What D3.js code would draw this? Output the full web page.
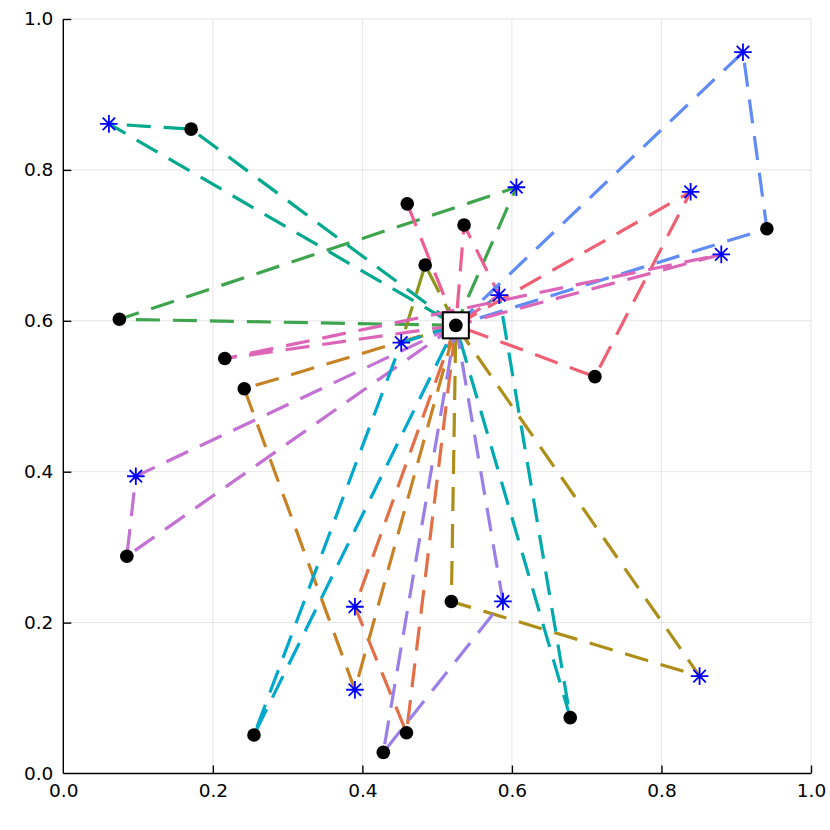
<!DOCTYPE html>
<html>
<head>
<meta charset="utf-8">
<script src="https://cdn.jsdelivr.net/npm/d3@7"></script>
<style>
  body { margin: 0; background: #fff; }
  .tick text { font-family: "DejaVu Sans", sans-serif; font-size: 18.5px; fill: #000; }
</style>
</head>
<body>
<script>
// depot and stops
const depot = [0.525, 0.594];

const blackPts = {
  B1:  [0.171, 0.854], B2:  [0.075, 0.602], B3:  [0.460, 0.755],
  B4:  [0.536, 0.727], B5:  [0.484, 0.674], B6:  [0.941, 0.722],
  B7:  [0.711, 0.526], B8:  [0.216, 0.550], B9:  [0.242, 0.510],
  B10: [0.085, 0.288], B11: [0.519, 0.228], B12: [0.255, 0.051],
  B13: [0.428, 0.028], B14: [0.459, 0.054], B15: [0.678, 0.074]
};

const starPts = {
  S1:  [0.061, 0.861], S2:  [0.606, 0.777], S3:  [0.909, 0.956],
  S4:  [0.839, 0.771], S5:  [0.880, 0.688], S6:  [0.583, 0.634],
  S7:  [0.452, 0.571], S8:  [0.097, 0.394], S9:  [0.390, 0.221],
  S10: [0.588, 0.228], S11: [0.390, 0.111], S12: [0.851, 0.129]
};

const routes = [
  ["D", "S9", "B14", "D"],
  ["D", "B2", "S2", "D"],
  ["D", "S8", "B10", "D"],
  ["D", "S12", "B11", "D"],
  ["D", "S6", "B15", "D"],
  ["B3", "D", "B4", "S6", "D"],
  ["D", "B9", "S11", "D"],
  ["D", "B1", "S1", "D"],
  ["D", "B5", "S7", "D"],
  ["D", "S7", "B12", "D"],
  ["D", "S10", "B13", "D"],
  ["D", "S3", "B6", "D"],
  ["D", "S4", "B7", "D"],
  ["D", "B8", "S5", "D"]
];

const routeColors = [
  "#E36F47", "#3EA44E", "#C371D2", "#AC8E18", "#00AAAE", "#ED5E93", "#C68225",
  "#00A98D", "#8E971D", "#00A8CB", "#9B7FE9", "#618CF6", "#F06073", "#DD65B7"
];

const ticks = [0, 0.2, 0.4, 0.6, 0.8, 1.0];

const W = 830, H = 830;
const plot = {left: 63.3, right: 811, top: 19, bottom: 773.5};

const svg = d3.select("body").append("svg")
  .attr("width", W)
  .attr("height", H);

const xScale = d3.scaleLinear().domain([0, 1]).range([plot.left, plot.right]);
const yScale = d3.scaleLinear().domain([0, 1]).range([plot.bottom, plot.top]);

const lookup = (k) => k === "D" ? depot : (blackPts[k] || starPts[k]);

// grid
const grid = svg.append("g").attr("stroke", "#000").attr("stroke-opacity", 0.1).attr("stroke-width", 1);
grid.selectAll(".gx").data(ticks.slice(1)).join("line")
  .attr("x1", d => xScale(d)).attr("x2", d => xScale(d))
  .attr("y1", plot.top).attr("y2", plot.bottom);
grid.selectAll(".gy").data(ticks.slice(1)).join("line")
  .attr("y1", d => yScale(d)).attr("y2", d => yScale(d))
  .attr("x1", plot.left).attr("x2", plot.right);

// routes
const lineGen = d3.line()
  .x(k => xScale(lookup(k)[0]))
  .y(k => yScale(lookup(k)[1]));

svg.append("g").selectAll("path").data(routes).join("path")
  .attr("d", lineGen)
  .attr("fill", "none")
  .attr("stroke", (d, i) => routeColors[i])
  .attr("stroke-width", 3.2)
  .attr("stroke-dasharray", "24,13");

// axes
const xAxis = d3.axisBottom(xScale).tickValues(ticks).tickFormat(d3.format(".1f"))
  .tickSize(-8).tickSizeOuter(0).tickPadding(10);
const yAxis = d3.axisLeft(yScale).tickValues(ticks).tickFormat(d3.format(".1f"))
  .tickSize(-8).tickSizeOuter(0).tickPadding(10);

svg.append("g").attr("transform", `translate(0,${plot.bottom})`).call(xAxis)
  .call(g => g.selectAll("path, line").attr("stroke", "#000").attr("stroke-width", 1.4))
  .call(g => g.select(".domain").attr("d", `M${plot.left},0H${plot.right}`));
svg.append("g").attr("transform", `translate(${plot.left},0)`).call(yAxis)
  .call(g => g.selectAll("path, line").attr("stroke", "#000").attr("stroke-width", 1.4))
  .call(g => g.select(".domain").attr("d", `M0,${plot.bottom}V${plot.top}`));

svg.selectAll(".tick").filter(d => d === 0).select("line").remove();

// black stops
svg.append("g").selectAll("circle").data(Object.values(blackPts)).join("circle")
  .attr("cx", d => xScale(d[0])).attr("cy", d => yScale(d[1]))
  .attr("r", 6.8).attr("fill", "#000");

// star stops (8-arm asterisk)
const arm = 8.8, diag = arm * Math.SQRT1_2;
const starPath = `M${-arm},0H${arm}M0,${-arm}V${arm}M${-diag},${-diag}L${diag},${diag}M${-diag},${diag}L${diag},${-diag}`;
svg.append("g").selectAll("path").data(Object.values(starPts)).join("path")
  .attr("transform", d => `translate(${xScale(d[0])},${yScale(d[1])})`)
  .attr("d", starPath)
  .attr("stroke", "#0000FF").attr("stroke-width", 1.8).attr("fill", "none");

// depot
svg.append("rect")
  .attr("x", xScale(depot[0]) - 13).attr("y", yScale(depot[1]) - 13)
  .attr("width", 26).attr("height", 26)
  .attr("fill", "#fff").attr("stroke", "#000").attr("stroke-width", 2);
svg.append("circle")
  .attr("cx", xScale(depot[0])).attr("cy", yScale(depot[1]))
  .attr("r", 6.8).attr("fill", "#000");
</script>
</body>
</html>
